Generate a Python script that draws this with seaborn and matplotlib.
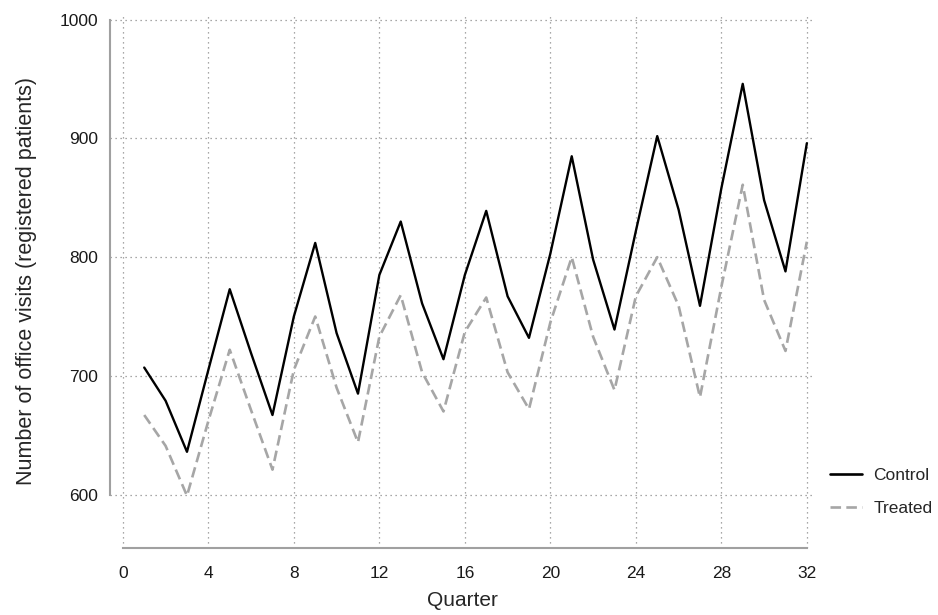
import pandas as pd
import numpy as np
import seaborn as sns
import matplotlib.pyplot as plt

# quarterly office visits
quarters = list(range(1, 33))
control = [707, 679, 636, 705, 773, 719, 667, 750, 812, 736, 685, 785, 830, 761, 714, 785,
           839, 767, 732, 803, 885, 798, 739, 822, 902, 840, 759, 858, 946, 848, 788, 896]
treated = [667, 641, 599, 662, 722, 671, 621, 705, 750, 690, 644, 733, 768, 703, 670, 737,
           766, 703, 672, 745, 800, 733, 688, 767, 800, 759, 682, 775, 861, 764, 721, 813]
groups = ["Control", "Treated"]
x_ticks = list(range(0, 33, 4))
y_ticks = [600, 700, 800, 900, 1000]

visits_df = pd.DataFrame({
    "Quarter": quarters * 2,
    "visits": control + treated,
    "group": ["Control"] * len(control) + ["Treated"] * len(treated),
})

sns.set_theme(style="white")
plt.rcParams['font.family'] = ['Liberation Sans', 'DejaVu Sans']

fig = plt.figure(figsize=(9.38, 6.15), dpi=100)
ax = fig.add_axes([0.1173, 0.109, 0.752, 0.8666])

sns.lineplot(data=visits_df, x="Quarter", y="visits", hue="group", style="group",
             hue_order=groups, style_order=groups,
             palette={"Control": "black", "Treated": "#a6a6a6"},
             dashes={"Control": "", "Treated": (4, 2)},
             linewidth=1.9, ax=ax)

# lighter weight for the solid line
ax.lines[0].set_linewidth(1.7)

ax.set_xlim(-0.6, 32.4)
ax.set_ylim(555, 1004)
ax.set_xticks(x_ticks)
ax.set_yticks(y_ticks)

# # # dotted grid, stata-ish axes # # #
ax.grid(True, linestyle=(0, (1, 3)), color="#8c8c8c", linewidth=0.9)
for side in ["top", "right"]:
    ax.spines[side].set_visible(False)
ax.spines["left"].set_bounds(600, 1000)
ax.spines["bottom"].set_bounds(0, 32)
for side in ["left", "bottom"]:
    ax.spines[side].set_color("#a0a0a0")
    ax.spines[side].set_linewidth(1.5)
ax.tick_params(axis="both", which="both", direction="out", length=5, width=1.2,
               color="#a0a0a0", labelsize=12.5, labelcolor="#1a1a1a")
ax.tick_params(axis="x", pad=8)

ax.set_xlabel("Quarter", fontsize=15, labelpad=7)
ax.set_ylabel("Number of office visits (registered patients)", fontsize=15.5, labelpad=16)

handles, labels = ax.get_legend_handles_labels()
ax.legend(handles=handles, labels=labels, loc="center left", bbox_to_anchor=(1.011, 0.105),
          frameon=False, fontsize=12.5, handlelength=1.85, handletextpad=0.64,
          labelspacing=1.0, borderaxespad=0)

fig.savefig("out.png", dpi=100)
